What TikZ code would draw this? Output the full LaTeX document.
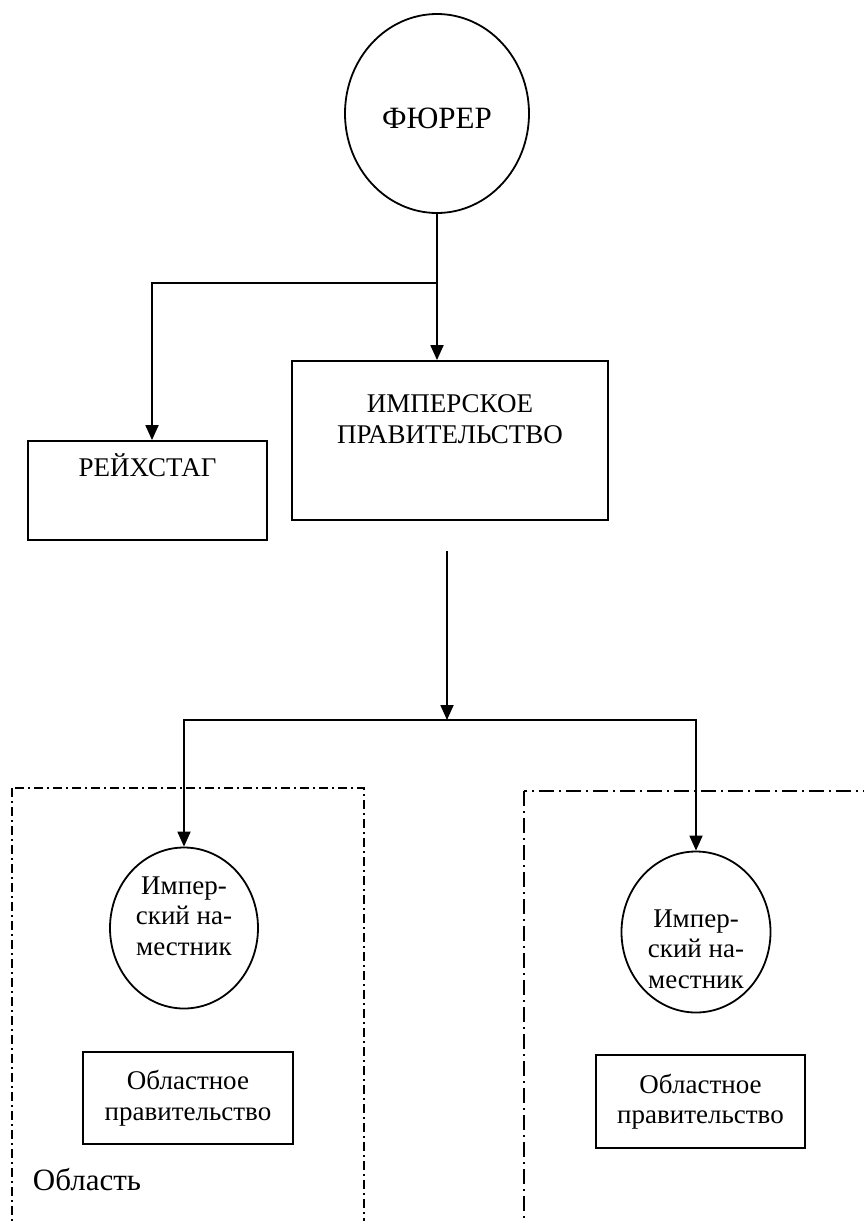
\documentclass[tikz,border=0pt]{standalone}
\usepackage{fontspec}
\setmainfont{Liberation Serif}
\usetikzlibrary{arrows.meta,shapes.geometric,positioning}

\begin{document}
\begin{tikzpicture}[x=1pt,y=-1pt,line width=1.8pt,->,>={Triangle[length=15pt,width=13pt]},
    font=\fontsize{27}{30.5}\selectfont]
    \tikzstyle{oval}=[ellipse, draw, inner sep=0pt]
    \tikzstyle{block}=[rectangle, draw, align=center, inner sep=0pt]
    \tikzstyle{land}=[-, line width=1.6pt]
    \clip (0,0) rectangle (864,1221);

    \node[oval, minimum width=184pt, minimum height=199pt, text height=29pt, text depth=0pt,
        font=\fontsize{31}{36}\selectfont] (fuhrer) at (437,113.5) {ФЮРЕР};
    \node[block, minimum width=239pt, minimum height=99pt, text height=20pt, text depth=49pt]
        (reich) at (147.5,490.5) {РЕЙХСТАГ};
    \node[block, minimum width=316pt, minimum height=159pt, text height=51pt, text depth=46pt]
        (imp) at (450,440.5) {ИМПЕРСКОЕ\\ПРАВИТЕЛЬСТВО};

    \coordinate (split) at (437,283);
    \draw (fuhrer.south) -- (fuhrer.south |- imp.north);
    \draw (split) -| ([xshift=4.5pt]reich.north);

    \draw[land, dash pattern=on 9pt off 4pt on 2pt off 4pt] (12,788) rectangle (364,1240);
    \draw[land, dash pattern=on 15pt off 5pt on 2pt off 5pt] (524,791) rectangle (900,1240);

    \node[oval, minimum width=148pt, minimum height=161pt, align=center, text height=77pt, text depth=23pt]
        (lnam) at (184,928) {Импер-\\ский на-\\местник};
    \node[oval, minimum width=149pt, minimum height=161pt, align=center, text height=112pt, text depth=0pt]
        (rnam) at (696,932) {Импер-\\ский на-\\местник};
    \node[block, minimum width=210pt, minimum height=92pt] (lgov) at (188,1098) {Областное\\правительство};
    \node[block, minimum width=209pt, minimum height=93pt] (rgov) at (700.5,1101.5) {Областное\\правительство};
    \node[anchor=base west, inner sep=0pt, font=\fontsize{31}{36}\selectfont] (obl) at (32,1190) {Область};

    \coordinate (down) at (447,551);
    \coordinate (hub) at (447,720);
    \draw (down) -- (hub);
    \draw (hub) -| (lnam.north);
    \draw (hub) -| (rnam.north);
\end{tikzpicture}
\end{document}
